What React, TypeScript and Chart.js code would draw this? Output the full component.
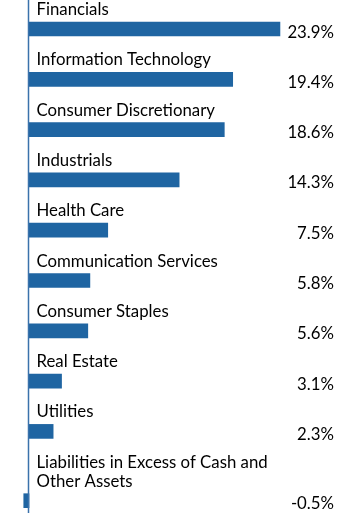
import React, { useEffect, useRef } from "react";
import { Chart, registerables } from "chart.js";

Chart.register(...registerables);

const categories: string[][] = [
  ["Financials"],
  ["Information Technology"],
  ["Consumer Discretionary"],
  ["Industrials"],
  ["Health Care"],
  ["Communication Services"],
  ["Consumer Staples"],
  ["Real Estate"],
  ["Utilities"],
  ["Liabilities in Excess of Cash and", "Other Assets"],
];
const values: number[] = [23.9, 19.4, 18.6, 14.3, 7.5, 5.8, 5.6, 3.1, 2.3, -0.5];
const valueLabels: string[] = ["23.9%", "19.4%", "18.6%", "14.3%", "7.5%", "5.8%", "5.6%", "3.1%", "2.3%", "-0.5%"];

const BAR_COLOR = "#1f65a2";
const AXIS_COLOR = "#3a72ab";
const TEXT_COLOR = "#000000";
const FONT = "16.8px Lato";
const ROW_PX = 50.3;
const LINE_PX = 19;

// slot position of each row: extra label lines push the row down
const positions: number[] = (() => {
  const out: number[] = [];
  let acc = 0;
  categories.forEach((lines, i) => {
    if (i > 0) acc += 1;
    acc += ((lines.length - 1) * LINE_PX) / ROW_PX;
    out.push(acc);
  });
  return out;
})();

const labelPlugin = {
  id: "rowLabels",
  afterDatasetsDraw(chart: any) {
    const { ctx, scales, chartArea } = chart;
    const xs = scales.x;
    const ys = scales.y;
    const zeroX = xs.getPixelForValue(0);
    ctx.save();
    // axis line
    ctx.strokeStyle = AXIS_COLOR;
    ctx.lineWidth = 1.5;
    ctx.beginPath();
    ctx.moveTo(zeroX - 0.5, chartArea.top);
    ctx.lineTo(zeroX - 0.5, chartArea.bottom);
    ctx.stroke();

    ctx.font = FONT;
    ctx.fillStyle = TEXT_COLOR;
    categories.forEach((lines, i) => {
      const cy = ys.getPixelForValue(positions[i]);
      ctx.textAlign = "left";
      ctx.textBaseline = "alphabetic";
      const lastBase = cy - 14;
      lines.forEach((ln, j) => {
        const y = lastBase - (lines.length - 1 - j) * LINE_PX;
        ctx.fillText(ln, zeroX + 7.5, y);
      });
      ctx.textAlign = "right";
      ctx.fillText(valueLabels[i], 334, cy + 8.5);
    });
    ctx.restore();
  },
};

export default function App() {
  const ref = useRef<HTMLCanvasElement | null>(null);
  useEffect(() => {
    if (!ref.current) return;
    const chart = new Chart(ref.current, {
      type: "bar",
      data: {
        datasets: [
          {
            data: values.map((v, i) => ({ x: v, y: positions[i] })) as any,
            backgroundColor: BAR_COLOR,
            borderWidth: 0,
            barThickness: 14,
          },
        ],
      },
      options: {
        indexAxis: "y",
        responsive: false,
        animation: false,
        layout: { padding: { top: 0, left: 0, right: 0, bottom: 4 } },
        scales: {
          x: { type: "linear", offset: false, min: -29 / 10.5, max: -29 / 10.5 + 360 / 10.5, display: false },
          y: { type: "linear", offset: false, reverse: true, min: -29 / ROW_PX, max: -29 / ROW_PX + 513 / ROW_PX, display: false },
        },
        plugins: { legend: { display: false }, tooltip: { enabled: false } },
      },
      plugins: [labelPlugin],
    });
    return () => chart.destroy();
  }, []);
  return (
    <div style={{ position: "fixed", left: 0, top: 0, width: 360, height: 517, background: "#fff" }}>
      <canvas ref={ref} width={360} height={517} style={{ display: "block" }} />
    </div>
  );
}
